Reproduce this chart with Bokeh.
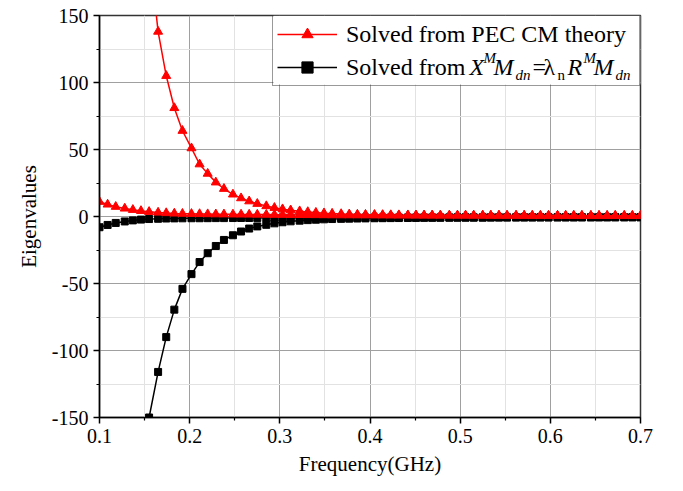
from bokeh.plotting import figure
from bokeh.models import (Legend, LegendItem, Label, FixedTicker, NumeralTickFormatter,
                          Range1d, BoxAnnotation)
from bokeh.embed import file_html
from bokeh.resources import INLINE

# ---------------- data ----------------
freq = [0.100, 0.109, 0.118, 0.128, 0.137, 0.146, 0.155, 0.165, 0.174, 0.183,
        0.192, 0.202, 0.211, 0.220, 0.229, 0.238, 0.248, 0.257, 0.266, 0.275,
        0.285, 0.294, 0.303, 0.312, 0.322, 0.331, 0.340, 0.349, 0.358, 0.368,
        0.377, 0.386, 0.395, 0.405, 0.414, 0.423, 0.432, 0.442, 0.451, 0.460,
        0.469, 0.478, 0.488, 0.497, 0.506, 0.515, 0.525, 0.534, 0.543, 0.552,
        0.562, 0.571, 0.580, 0.589, 0.598, 0.608, 0.617, 0.626, 0.635, 0.645,
        0.654, 0.663, 0.672, 0.682, 0.691, 0.700]

# red, large branch (starts at freq[6])
pec_high = [200, 138, 105, 81, 64, 51, 39, 32, 25.5, 20.7,
            16.5, 13.7, 11.4, 9.5, 7.8, 6.5, 5.5, 4.7, 4.0, 3.4,
            2.9, 2.5, 2.2, 1.9, 1.7, 1.5, 1.4, 1.3, 1.2, 1.1,
            1.05, 1.0, 0.95, 0.9, 0.88, 0.85, 0.82, 0.8, 0.78, 0.76,
            0.74, 0.72, 0.7, 0.68, 0.67, 0.66, 0.65, 0.64, 0.63, 0.62,
            0.61, 0.6, 0.59, 0.58, 0.57, 0.56, 0.55, 0.54, 0.53, 0.52]
# red, small branch
pec_low = [11, 9, 7.3, 6, 5, 4.2, 3.5, 3.0, 2.6, 2.3,
           2.1, 2.0, 1.9, 1.8, 1.7, 1.65, 1.6, 1.55, 1.5, 1.45,
           1.4, 1.35, 1.3, 1.25, 1.2, 1.15, 1.1, 1.05, 1.0, 0.98,
           0.96, 0.94, 0.92, 0.9, 0.88, 0.87, 0.86, 0.85, 0.84, 0.83,
           0.82, 0.81, 0.8, 0.79, 0.78, 0.77, 0.76, 0.75, 0.74, 0.73,
           0.72, 0.71, 0.7, 0.69, 0.68, 0.67, 0.66, 0.65, 0.64, 0.63,
           0.62, 0.61, 0.6, 0.6, 0.59, 0.58]
# black, small branch
mdn_low = [-8, -6.3, -4.8, -3.7, -2.9, -2.3, -1.9, -1.7, -1.5, -1.4,
           -1.35, -1.3, -1.3, -1.25, -1.2, -1.2, -1.15, -1.1, -1.1, -1.05,
           -1.0, -1.0, -0.95, -0.95, -0.9, -0.9, -0.88, -0.86, -0.84, -0.82,
           -0.8, -0.78, -0.76, -0.75, -0.74, -0.73, -0.72, -0.71, -0.7, -0.69,
           -0.68, -0.67, -0.66, -0.65, -0.64, -0.63, -0.62, -0.61, -0.6, -0.6,
           -0.59, -0.58, -0.58, -0.57, -0.56, -0.56, -0.55, -0.55, -0.54, -0.54,
           -0.53, -0.53, -0.52, -0.52, -0.51, -0.5]
# black, large branch (starts at freq[6])
mdn_high = [-150, -116, -90, -69.5, -54, -43, -34, -27.4, -22, -17.5,
            -14, -11.2, -9, -7.4, -6.2, -5.1, -4.3, -3.6, -3.1, -2.7,
            -2.4, -2.1, -1.9, -1.75, -1.6, -1.5, -1.4, -1.3, -1.25, -1.2,
            -1.15, -1.1, -1.05, -1.0, -0.98, -0.95, -0.92, -0.9, -0.88, -0.86,
            -0.84, -0.82, -0.8, -0.78, -0.76, -0.75, -0.74, -0.73, -0.72, -0.71,
            -0.7, -0.69, -0.68, -0.67, -0.66, -0.65, -0.64, -0.63, -0.62, -0.61]

x_ticks = [0.1, 0.2, 0.3, 0.4, 0.5, 0.6, 0.7]
y_ticks = [-150, -100, -50, 0, 50, 100, 150]
x_minor = [0.15, 0.25, 0.35, 0.45, 0.55, 0.65]
y_minor = [-125, -75, -25, 25, 75, 125]

legend_1 = "Solved from PEC CM theory"
legend_2 = "Solved from"

SERIF = "Liberation Serif"

# ---------------- figure ----------------
p = figure(frame_width=541, frame_height=402,
           x_range=Range1d(0.1, 0.7), y_range=Range1d(-150, 150),
           output_backend="svg", toolbar_location=None,
           min_border_left=99, min_border_right=35, min_border_top=15, min_border_bottom=66,
           background_fill_color="white", border_fill_color="white")

p.outline_line_color = "#333333"
p.outline_line_width = 1.5

p.xaxis.ticker = FixedTicker(ticks=x_ticks, minor_ticks=x_minor)
p.yaxis.ticker = FixedTicker(ticks=y_ticks, minor_ticks=y_minor)
p.xaxis.formatter = NumeralTickFormatter(format="0.0")
p.yaxis.formatter = NumeralTickFormatter(format="0")

for ax in (p.xaxis[0], p.yaxis[0]):
    ax.axis_line_color = "black"
    ax.axis_line_width = 1.5
    ax.major_tick_line_color = "black"
    ax.major_tick_line_width = 1.5
    ax.minor_tick_line_color = "black"
    ax.minor_tick_line_width = 1.2
    ax.major_tick_out = 6
    ax.major_tick_in = 0
    ax.minor_tick_out = 3
    ax.minor_tick_in = 0
    ax.major_label_text_font = SERIF
    ax.major_label_text_font_size = "20px"
    ax.major_label_text_color = "black"
    ax.axis_label_text_font = SERIF
    ax.axis_label_text_font_size = "21px"
    ax.axis_label_text_font_style = "normal"
    ax.axis_label_text_color = "black"

p.xaxis.axis_label = "Frequency(GHz)"
p.yaxis.axis_label = "Eigenvalues"
p.xaxis.axis_label_standoff = 6
p.yaxis.axis_label_standoff = 8

for g in (p.xgrid[0], p.ygrid[0]):
    g.grid_line_color = "#a0a0a0"
    g.grid_line_width = 1
    g.minor_grid_line_color = "#e2e2e2"
    g.minor_grid_line_width = 1

# ---------------- series ----------------
f_high = freq[6:]

bl1 = p.line(freq, mdn_low, line_color="black", line_width=1.5)
bs1 = p.scatter(freq, mdn_low, marker="square", size=7, color="black")
bl2 = p.line(f_high, mdn_high, line_color="black", line_width=1.5)
bs2 = p.scatter(f_high, mdn_high, marker="square", size=7, color="black")

rl1 = p.line(freq, pec_low, line_color="red", line_width=1.5)
rs1 = p.scatter(freq, pec_low, marker="triangle", size=9, color="red")
rl2 = p.line(f_high, pec_high, line_color="red", line_width=1.5)
rs2 = p.scatter(f_high, pec_high, marker="triangle", size=9, color="red")

# page pixel -> data coordinates (frame: x 99..640, y 15..417)
def xd(px):
    return 0.1 + (px - 99) / 541 * 0.6

def yd(py):
    return 150 - (py - 15) / 402 * 300

# white backing box for the legend (legend itself is transparent)
p.add_layout(BoxAnnotation(left=xd(273), right=0.7, top=150, bottom=yd(84),
                           fill_color="white", fill_alpha=1.0,
                           line_color=None, level="annotation"))

legend = Legend(items=[LegendItem(label=legend_1, renderers=[rl2, rs2]),
                       LegendItem(label=legend_2, renderers=[bl2, bs2])],
                location="top_right", margin=0, padding=4, spacing=5,
                glyph_width=60, glyph_height=28, label_height=28, label_width=289,
                label_standoff=9,
                label_text_font=SERIF, label_text_font_size="24px",
                label_text_color="black",
                border_line_color="#333333", border_line_width=1,
                background_fill_alpha=0.0)
p.add_layout(legend)

# ---------------- formula in legend row 2 ----------------
row2 = 66
pieces = [
    ("X", 469, row2, "24px", "italic"),
    ("M", 483, row2 - 9, "15px", "italic"),
    ("M", 493, row2, "24px", "italic"),
    ("dn", 515, row2 + 8, "15px", "italic"),
    ("=", 532, row2, "24px", "normal"),
    ("λ", 543, row2, "24px", "normal"),
    ("n", 557, row2 + 8, "15px", "normal"),
    ("R", 567, row2, "24px", "italic"),
    ("M", 583, row2 - 9, "15px", "italic"),
    ("M", 593, row2, "24px", "italic"),
    ("dn", 615, row2 + 8, "15px", "italic"),
]
for txt, px, py, fs, style in pieces:
    p.add_layout(Label(x=xd(px), y=yd(py), text=txt, text_font=SERIF,
                       text_font_size=fs, text_font_style=style,
                       text_baseline="middle", text_align="left",
                       text_color="black", level="overlay"))

open("out.html", "w").write(file_html(p, INLINE))
